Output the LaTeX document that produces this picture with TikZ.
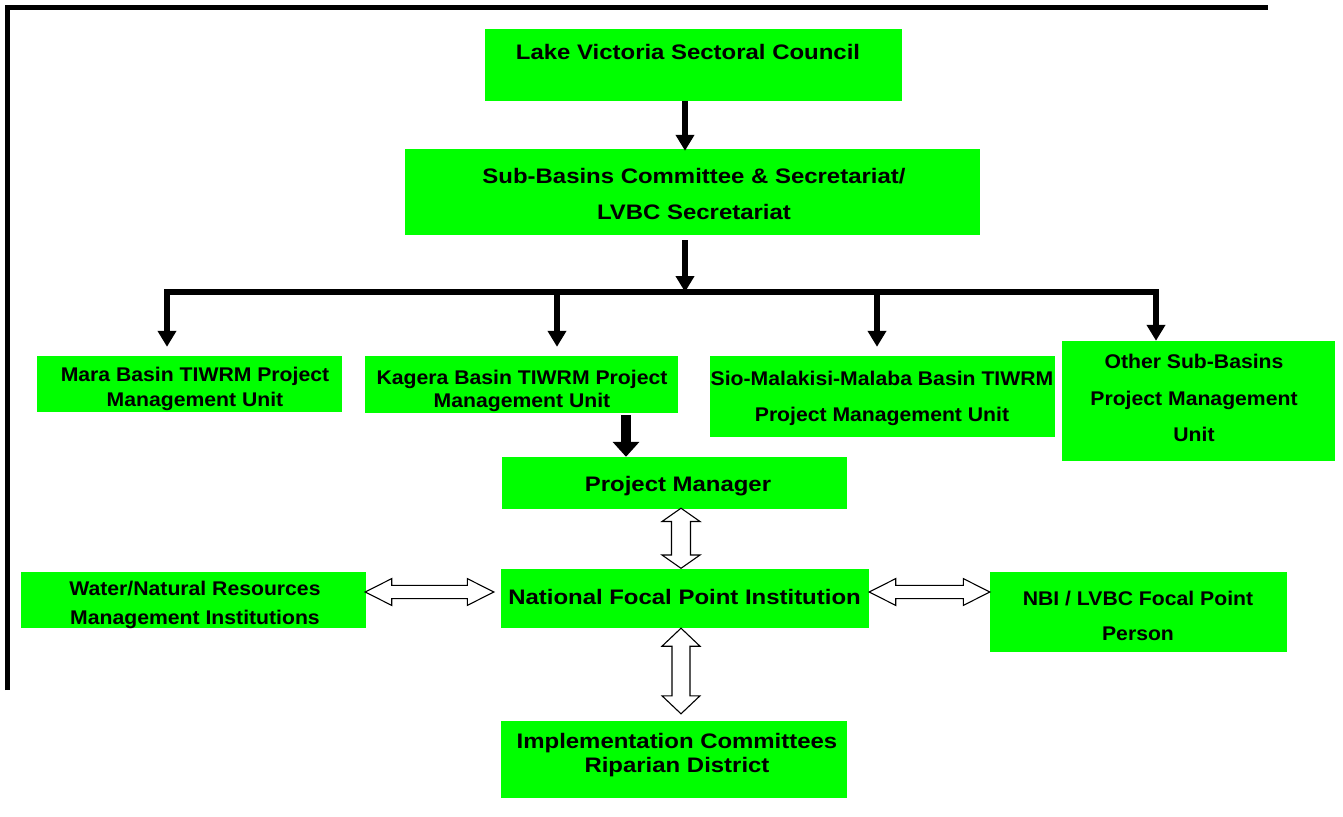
\documentclass[tikz,border=0pt]{standalone}
\usepackage{fontspec}
\usetikzlibrary{arrows.meta,calc}
\newfontfamily\bigf{Liberation Sans}[FakeStretch=1.14]
\newfontfamily\smallf{Liberation Sans}[FakeStretch=1.07]
\definecolor{boxgreen}{RGB}{0,255,0}
\tikzset{
  gbox/.style={fill=boxgreen, draw=none, inner sep=0pt, rectangle},
  lbl/.style={inner sep=0pt, anchor=north, align=center, text=black},
  bigtxt/.style={font={\bigf\bfseries\fontsize{21pt}{#1pt}\selectfont}},
  smalltxt/.style={font={\smallf\bfseries\fontsize{19.8pt}{#1pt}\selectfont}},
  thickln/.style={line width=5.5pt, line join=miter},
  >={Triangle[width=18pt,length=16pt]},
  hollow/.style={draw=black, fill=white, line width=1.1pt, line join=miter}
}
\newcommand\hollowV[5]{\draw[hollow] let \p1=(#1), \p2=(#2) in
  (\x1,\y1) -- (\x1+#4,\y1-#5) -- (\x1+#3,\y1-#5) -- (\x1+#3,\y2+#5) -- (\x1+#4,\y2+#5)
  -- (\x1,\y2) -- (\x1-#4,\y2+#5) -- (\x1-#3,\y2+#5) -- (\x1-#3,\y1-#5) -- (\x1-#4,\y1-#5) -- cycle;}
\newcommand\hollowH[5]{\draw[hollow] let \p1=(#1), \p2=(#2) in
  (\x1,\y1) -- (\x1+#5,\y1+#4) -- (\x1+#5,\y1+#3) -- (\x2-#5,\y1+#3) -- (\x2-#5,\y1+#4)
  -- (\x2,\y1) -- (\x2-#5,\y1-#4) -- (\x2-#5,\y1-#3) -- (\x1+#5,\y1-#3) -- (\x1+#5,\y1-#4) -- cycle;}
\begin{document}
\begin{tikzpicture}[x=1pt,y=-1pt]
\useasboundingbox (0,0) rectangle (1343,816);
% frame
\draw[line width=5pt, line join=miter] (7.5,690) -- (7.5,7.5) -- (1268,7.5);

% boxes
\node[gbox, minimum width=417pt, minimum height=72pt] (lvsc) at (693.5,65) {};
\node[gbox, minimum width=575pt, minimum height=86pt] (sub) at (692.5,192) {};
\node[gbox, minimum width=305pt, minimum height=56pt] (mara) at (189.5,384) {};
\node[gbox, minimum width=313pt, minimum height=57pt] (kag) at (521.5,384.5) {};
\node[gbox, minimum width=345pt, minimum height=81pt] (sio) at (882.5,396.5) {};
\node[gbox, minimum width=273pt, minimum height=120pt] (oth) at (1198.5,401) {};
\node[gbox, minimum width=345pt, minimum height=52pt] (pm) at (674.5,483) {};
\node[gbox, minimum width=368pt, minimum height=59pt] (nfpi) at (685,598.5) {};
\node[gbox, minimum width=345pt, minimum height=56pt] (wat) at (193.5,600) {};
\node[gbox, minimum width=297pt, minimum height=80pt] (nbi) at (1138.5,612) {};
\node[gbox, minimum width=346pt, minimum height=77pt] (imp) at (674,759.5) {};

% texts
\node[lbl, bigtxt=25] (lvsct) at (688,44) {Lake Victoria Sectoral Council};
\node[lbl, bigtxt=36] (subt) at (694,168.5) {Sub-Basins Committee \& Secretariat/\\LVBC Secretariat};
\node[lbl, smalltxt=25] (marat) at (195,366.9) {Mara Basin TIWRM Project\\Management Unit};
\node[lbl, smalltxt=23] (kagt) at (522,370) {Kagera Basin TIWRM Project\\Management Unit};
\node[lbl, smalltxt=36] (siot) at (882,371) {Sio-Malakisi-Malaba Basin TIWRM\\Project Management Unit};
\node[lbl, smalltxt=36.7] (otht) at (1194,353.9) {Other Sub-Basins\\Project Management\\Unit};
\node[lbl, bigtxt=25] (pmt) at (678,476.5) {Project Manager};
\node[lbl, bigtxt=25] (nfpit) at (684.5,589.5) {National Focal Point Institution};
\node[lbl, smalltxt=29] (watt) at (195,581) {Water/Natural Resources\\Management Institutions};
\node[lbl, smalltxt=35] (nbit) at (1138,591) {NBI / LVBC Focal Point\\Person};
\node[lbl, bigtxt=24] (impt) at (677,733.5) {Implementation Committees\\Riparian District};

% solid arrows
\coordinate (a1) at ([xshift=-8.5pt]lvsc.south);
\draw[thickln,->] (a1) -- ([yshift=-2pt]a1 |- sub.north);
\coordinate (bl) at (167,292);
\coordinate (br) at (1156,292);
\coordinate (a2) at ([xshift=-7.5pt,yshift=-5pt]sub.south);
\draw[thickln,->] (a2) -- (a2 |- bl);
\draw[thickln,<->,shorten <=9pt] (bl |- mara.north) -- (bl) -- (br) -- (br |- oth.north);
\coordinate (j2) at (557,292);
\coordinate (j3) at (877,292);
\draw[thickln,->,shorten >=9pt] (j2) -- (j2 |- kag.north);
\draw[thickln,->,shorten >=9pt] (j3) -- (j3 |- sio.north);
\coordinate (k1) at ([xshift=104.5pt,yshift=-2pt]kag.south);
\draw[line width=10pt,-{Triangle[width=26pt,length=15pt]}] (k1) -- (k1 |- pm.north);

% hollow double arrows
\coordinate (v1a) at ([xshift=6.5pt,yshift=1pt]pm.south);
\coordinate (v1b) at ([xshift=-4pt,yshift=0.5pt]nfpi.north);
\hollowV{v1a}{v1b}{9.5pt}{19pt}{13.3pt}
\coordinate (v2a) at ([xshift=-4pt]nfpi.south);
\coordinate (v2b) at ([xshift=7pt,yshift=7pt]imp.north);
\hollowV{v2a}{v2b}{9pt}{19pt}{18pt}
\coordinate (h1a) at ([xshift=-1pt,yshift=8pt]wat.east);
\coordinate (h1b) at ([xshift=-7pt,yshift=6.5pt]nfpi.west);
\hollowH{h1a}{h1b}{6.6pt}{13.4pt}{26.5pt}
\coordinate (h2a) at ([yshift=6.5pt]nfpi.east);
\coordinate (h2b) at ([yshift=20pt]nbi.west);
\hollowH{h2a}{h2b}{6.6pt}{13.4pt}{26.5pt}
\end{tikzpicture}
\end{document}
